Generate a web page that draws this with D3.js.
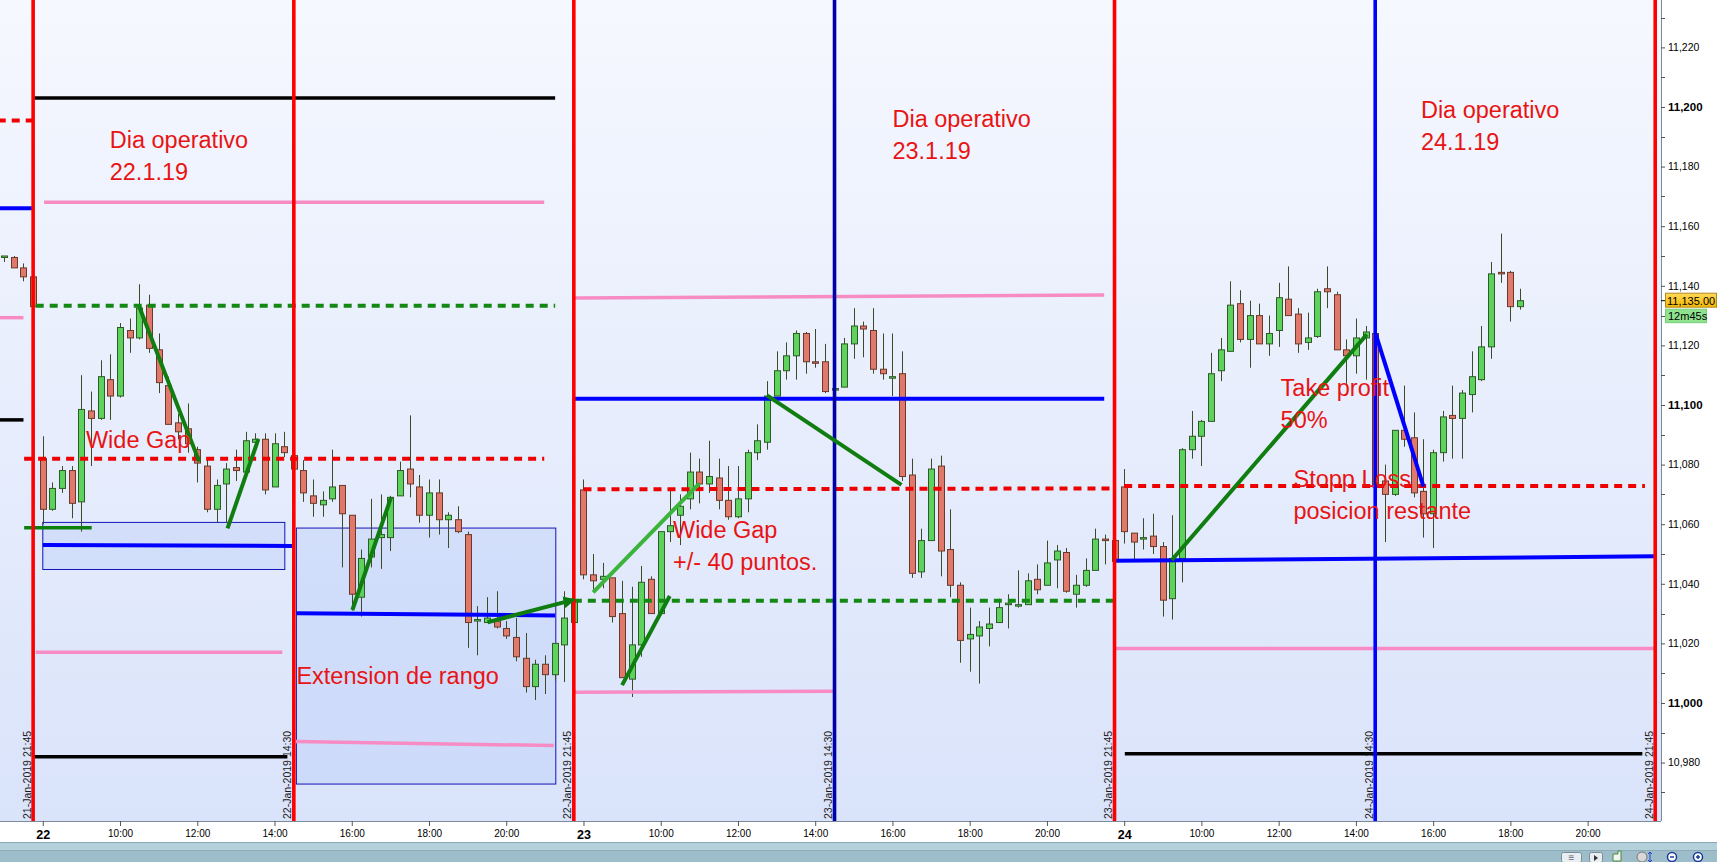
<!DOCTYPE html>
<html><head><meta charset="utf-8">
<script src="https://cdn.jsdelivr.net/npm/d3@7/dist/d3.min.js"></script>
<style>
html,body{margin:0;padding:0;background:#fff;overflow:hidden}
svg{display:block;font-family:"Liberation Sans",Arial,sans-serif}
</style></head><body>
<svg id="chart" width="1717" height="862"></svg>
<script>
// ---------------- DATA ----------------
const candleTime = [
"21 21:00","21 21:15","21 21:30","21 21:45",
"22 08:00","22 08:15","22 08:30","22 08:45","22 09:00","22 09:15","22 09:30","22 09:45","22 10:00","22 10:15","22 10:30","22 10:45","22 11:00","22 11:15","22 11:30","22 11:45","22 12:00","22 12:15","22 12:30","22 12:45","22 13:00","22 13:15","22 13:30","22 13:45","22 14:00","22 14:15","22 14:30","22 14:45","22 15:00","22 15:15","22 15:30","22 15:45","22 16:00","22 16:15","22 16:30","22 16:45","22 17:00","22 17:15","22 17:30","22 17:45","22 18:00","22 18:15","22 18:30","22 18:45","22 19:00","22 19:15","22 19:30","22 19:45","22 20:00","22 20:15","22 20:30","22 20:45","22 21:00","22 21:15","22 21:30","22 21:45",
"23 08:00","23 08:15","23 08:30","23 08:45","23 09:00","23 09:15","23 09:30","23 09:45","23 10:00","23 10:15","23 10:30","23 10:45","23 11:00","23 11:15","23 11:30","23 11:45","23 12:00","23 12:15","23 12:30","23 12:45","23 13:00","23 13:15","23 13:30","23 13:45","23 14:00","23 14:15","23 14:30","23 14:45","23 15:00","23 15:15","23 15:30","23 15:45","23 16:00","23 16:15","23 16:30","23 16:45","23 17:00","23 17:15","23 17:30","23 17:45","23 18:00","23 18:15","23 18:30","23 18:45","23 19:00","23 19:15","23 19:30","23 19:45","23 20:00","23 20:15","23 20:30","23 20:45","23 21:00","23 21:15","23 21:30","23 21:45",
"24 08:00","24 08:15","24 08:30","24 08:45","24 09:00","24 09:15","24 09:30","24 09:45","24 10:00","24 10:15","24 10:30","24 10:45","24 11:00","24 11:15","24 11:30","24 11:45","24 12:00","24 12:15","24 12:30","24 12:45","24 13:00","24 13:15","24 13:30","24 13:45","24 14:00","24 14:15","24 14:30","24 14:45","24 15:00","24 15:15","24 15:30","24 15:45","24 16:00","24 16:15","24 16:30","24 16:45","24 17:00","24 17:15","24 17:30","24 17:45","24 18:00","24 18:15"
];
const open = [
11150,11149.5,11146,11143,
11082,11065,11072,11078,11067.5,11098,11095.5,11108.5,11103,11125,11122.5,11133.5,11118.5,11106.5,11094,11092,11085,11079.5,11065,11073.5,11079,11077.5,11087.5,11088.5,11072.5,11086,11083,11078,11069.5,11066.5,11068.5,11073,11063,11035.5,11049,11055.5,11055.5,11069.5,11078.5,11072.5,11063,11070.5,11061.5,11061.5,11056.5,11027.5,11027,11027.5,11025,11022,11015,11005.5,11013,11009.5,11019.5,11027,
11071.5,11043,11041.5,11042,11030,11008,11019.5,11041.5,11030,11057.5,11063,11068.5,11077.5,11073.5,11075.5,11068,11062.5,11068.5,11084,11087.5,11103,11111.5,11116.5,11124,11114.5,11114.5,11105.5,11106,11120.5,11126.5,11125,11112,11109.5,11110.5,11076.5,11044,11054.5,11079.5,11051.5,11039.5,11021.5,11022.5,11025,11027,11033,11033,11033,11041.5,11039.5,11048,11050.5,11036.5,11039.5,11044.5,11055,11054.5,
11072.5,11057,11055.5,11056,11052.5,11035,11048.5,11085,11089.5,11094.5,11111.5,11118,11134,11122,11130,11120.5,11125,11135.5,11130.5,11121,11123,11139,11137,11118.5,11116.5,11122.5,11124,11074.5,11070,11091.5,11089,11071,11063.5,11084,11096.5,11095.5,11103.5,11108.5,11119.5,11144.5,11144.5,11133
];
const high = [
11150,11150,11147.5,11143,
11089.5,11074,11079.5,11079.5,11110,11104.5,11115,11117,11127.5,11129,11140.5,11137,11124,11109.5,11097,11100.5,11086,11082,11075,11080.5,11085,11091,11090.5,11090.5,11090.5,11091,11083.5,11081.5,11075,11071,11085,11073,11063,11051.5,11068.5,11070,11069.5,11081,11096.5,11076.5,11075,11075,11064,11066,11057.5,11032.5,11035.5,11037.5,11027.5,11028.5,11023.5,11014.5,11016,11020,11037.5,11038,
11075,11050,11047,11042,11041,11039,11046,11042.5,11057.5,11071.5,11070,11084,11082,11088,11082,11079.5,11079.5,11085,11093.5,11108,11118,11121,11125,11124.5,11125.5,11120.5,11106,11122.5,11132.5,11128,11132.5,11124,11124,11118,11082,11058.5,11082,11083,11065,11040.5,11032,11027.5,11032,11035,11036.5,11044.5,11043.5,11046.5,11054.5,11053,11052,11043,11048.5,11058.5,11056.5,11054.5,
11078.5,11057,11062,11063.5,11054,11063,11085.5,11098,11095,11117.5,11122.5,11141.5,11138.5,11135,11134,11130,11141,11146.5,11132.5,11131,11139,11146.5,11138,11122,11129,11126.5,11125,11080,11091.5,11106.5,11097.5,11088.5,11085,11098,11106.5,11105,11118,11126.5,11148,11157.5,11145,11139
];
const low = [
11148,11146,11141.5,11133,
11060,11064.5,11070.5,11062,11057.5,11079.5,11095,11095,11102.5,11117.5,11122,11117.5,11104,11093.5,11088.5,11084,11074,11064,11060.5,11060.5,11074.5,11077.5,11085,11070,11072.5,11082.5,11078,11067.5,11062.5,11062.5,11067.5,11045.5,11031,11029,11045.5,11045,11051,11069.5,11069,11060.5,11055.5,11056.5,11052,11057,11018.5,11016,11027,11025,11021.5,11014,11003.5,11001,11003,11007.5,11007,11027,
11041.5,11038,11038.5,11027,11008.5,11002,11015.5,11030,11029.5,11054,11053,11065,11067,11070.5,11065,11061.5,11062,11064,11081.5,11085,11103,11108.5,11108.5,11110.5,11112.5,11104,11105,11106,11115.5,11116,11110.5,11108.5,11103,11074.5,11042,11042,11054.5,11042.5,11035.5,11013.5,11010.5,11006.5,11019,11027,11025,11032,11033,11036.5,11039.5,11038.5,11037,11032,11039,11044.5,11046.5,11047.5,
11053.5,11048,11051.5,11050,11029,11028,11040.5,11082,11079.5,11094.5,11108,11118,11121,11112.5,11120.5,11116.5,11119.5,11130,11117.5,11118.5,11122.5,11132.5,11118.5,11106.5,11110.5,11108.5,11068,11054,11069.5,11086,11069,11055.5,11052,11081,11082,11082,11097.5,11108,11115.5,11141,11128,11132
];
const close = [
11150,11146,11143,11133,
11065,11072,11078,11067,11098.5,11095.5,11109.5,11103,11126,11122.5,11132.5,11119,11107.5,11093.5,11091,11087,11080.5,11065,11073,11078.5,11078,11088,11088.5,11071.5,11087,11084,11078.5,11070.5,11067,11068,11072.5,11063.5,11036.5,11048.5,11055,11056.5,11069,11078,11073.5,11063,11070.5,11061.5,11063,11057.5,11027,11028,11028.5,11025.5,11022.5,11015.5,11005.5,11013,11009.5,11020,11028.5,11034.5,
11043,11041,11042.5,11029,11008.5,11019.5,11040.5,11030,11057.5,11059.5,11066,11077.5,11073.5,11076,11068,11062.5,11068.5,11084,11088,11103,11111.5,11116.5,11124,11114.5,11114,11104.5,11105.5,11120.5,11126.5,11125.5,11112,11110.5,11109.5,11076,11043.5,11054.5,11078.5,11051,11039.5,11021,11023,11025.5,11026.5,11032,11033.5,11033,11041,11038,11047,11051,11037.5,11039.5,11044.5,11055,11054.5,11047.5,
11057.5,11054,11055.5,11052.5,11034.5,11048.5,11085,11089.5,11094.5,11110.5,11118.5,11133.5,11122,11130,11120.5,11124,11136,11130,11120.5,11122.5,11138,11138,11118.5,11116.5,11122.5,11124.5,11072.5,11070,11091.5,11088.5,11070.5,11063.5,11084,11096,11095.5,11104,11109.5,11119.5,11144,11144,11133,11135
];

// axis tick labels
const yTickValues = [10980,11000,11020,11040,11060,11080,11100,11120,11140,11160,11180,11200,11220];
const yBoldTicks  = [11000,11100,11200];
const xTickTimes  = ["22 08:00","22 10:00","22 12:00","22 14:00","22 16:00","22 18:00","22 20:00","23 08:00","23 10:00","23 12:00","23 14:00","23 16:00","23 18:00","23 20:00","24 08:00","24 10:00","24 12:00","24 14:00","24 16:00","24 18:00","24 20:00"];
const xTickLabels = ["22","10:00","12:00","14:00","16:00","18:00","20:00","23","10:00","12:00","14:00","16:00","18:00","20:00","24","10:00","12:00","14:00","16:00","18:00","20:00"];

// session markers (vertical lines)
const markerTimes  = ["21 21:45","22 14:30","22 21:45","23 14:30","23 21:45","24 14:30","24 21:45"];
const markerLabels = ["21-Jan-2019 21:45","22-Jan-2019 14:30","22-Jan-2019 21:45","23-Jan-2019 14:30","23-Jan-2019 21:45","24-Jan-2019 14:30","24-Jan-2019 21:45"];
const markerKinds  = ["red","red","red","navy","red","blue","red"];

// horizontal levels: [from, to, value at start, value at end, kind]
const levels = [
 ["21 20:50","21 21:48",11195.5,11195.5,"redDash"],
 ["21 20:50","21 21:45",11166,11166,"blue"],
 ["21 20:50","21 21:30",11129.3,11129.3,"pink"],
 ["21 20:50","21 21:30",11095,11095,"black"],
 ["21 21:45","22 21:16",11203,11203,"black"],
 ["22 08:02","22 20:59",11168,11168,"pink"],
 ["21 21:49","22 21:16",11133.3,11133.3,"greenDash"],
 ["21 21:31","22 20:59",11082,11082,"redDash"],
 ["21 21:31","22 09:16",11058.8,11058.8,"green"],
 ["22 08:00","22 14:29",11053,11052.7,"blue"],
 ["21 21:49","22 14:12",11017,11017,"pink"],
 ["21 21:45","22 14:20",10982,10982,"black"],
 ["22 14:34","22 21:16",11030.1,11029.4,"blue"],
 ["22 14:33","22 21:14",10987.1,10985.7,"pink"],
 ["22 21:45","23 21:29",11135.9,11136.9,"pink"],
 ["22 21:45","23 21:29",11102.1,11102.1,"blue"],
 ["23 08:00","23 21:38",11071.7,11072,"redDash"],
 ["22 21:45","23 21:44",11034.3,11034.3,"greenDash"],
 ["22 21:45","23 14:28",11003.6,11003.9,"pink"],
 ["23 21:44","24 21:44",11018.3,11018.3,"pink"],
 ["23 21:46","24 21:43",11047.7,11049.2,"blue"],
 ["24 08:00","24 21:29",11072.8,11072.8,"redDash"],
 ["24 08:01","24 21:25",10983,10983,"black"]
];

// hand-drawn trend segments: [from, value, to, value, kind]
const trends = [
 ["22 10:30",11132.9,"22 12:03",11081,"dark"],
 ["22 12:47",11058.6,"22 13:35",11088.6,"dark"],
 ["22 16:01",11031.2,"22 17:01",11069,"dark"],
 ["22 19:31",11027.1,"22 21:44",11034.6,"darkArrow"],
 ["23 08:15",11037.1,"23 11:00",11073.7,"light"],
 ["23 09:00",11006,"23 10:14",11035.9,"dark"],
 ["23 12:45",11103.2,"23 16:14",11073.2,"dark"],
 ["24 09:14",11048,"24 14:17",11123.7,"dark"],
 ["24 14:31",11123.7,"24 15:45",11072.6,"blue"]
];

// range boxes: [from, to, top, bottom]
const boxes = [
 ["22 08:00","22 14:16",11060.6,11044.8],
 ["22 14:34","22 21:17",11058.7,10972.8]
];

// annotations: [time, value of first baseline, lines]
const notes = [
 ["22 09:44",11186.3,["Dia operativo","22.1.19"]],
 ["23 16:00",11193.3,["Dia operativo","23.1.19"]],
 ["24 15:41",11196.3,["Dia operativo","24.1.19"]],
 ["22 09:07",11085.4,["Wide Gap"]],
 ["22 14:34",11006.4,["Extension de rango"]],
 ["23 10:19",11055.3,["Wide Gap","+/- 40 puntos."]],
 ["24 12:03",11103,["Take profit","50%"]],
 ["24 12:23",11072.6,["Stopp Loss","posicion restante"]]
];

const lastPrice = 11135;
const lastPriceLabel = "11,135.00";
const timerLabel = "12m45s";

// ---------------- RENDER ----------------
const parseH = s => { const [d, t] = s.split(" "); const [hh, mm] = t.split(":").map(Number); return (+d - 22) * 14 + hh - 8 + mm / 60; };

const svg = d3.select("#chart");
const PW = 1661, PH = 821;
const x = d3.scaleLinear().domain([-1.108, 41.9]).range([0, PW]);
const y = d3.scaleLinear().domain([10960.4, 11235.9]).range([PH, 0]);

const defs = svg.append("defs");
const grad = defs.append("linearGradient").attr("id","bg").attr("x1",0).attr("y1",0).attr("x2",0).attr("y2",1);
grad.append("stop").attr("offset","0%").attr("stop-color","#f6f8ff");
grad.append("stop").attr("offset","100%").attr("stop-color","#d9e3fa");
defs.append("clipPath").attr("id","clip").append("rect").attr("x",0).attr("y",0).attr("width",PW).attr("height",PH);
const pg = defs.append("linearGradient").attr("id","pricebg").attr("x1",0).attr("y1",0).attr("x2",0).attr("y2",1);
pg.append("stop").attr("offset","0%").attr("stop-color","#ffd95a");
pg.append("stop").attr("offset","100%").attr("stop-color","#f5b800");
defs.append("marker").attr("id","arr").attr("viewBox","0 0 10 10").attr("refX",8).attr("refY",5)
  .attr("markerWidth",3).attr("markerHeight",3).attr("orient","auto")
  .append("path").attr("d","M0,0L10,5L0,10z").attr("fill","#0d7a0d");

svg.append("rect").attr("width",1717).attr("height",862).attr("fill","#fff");
svg.append("rect").attr("x",0).attr("y",0).attr("width",PW).attr("height",PH).attr("fill","url(#bg)");

const g = svg.append("g").attr("clip-path","url(#clip)");

// boxes
g.selectAll(".box").data(boxes).join("rect")
  .attr("x", d => x(parseH(d[0]))).attr("y", d => y(d[2]))
  .attr("width", d => x(parseH(d[1])) - x(parseH(d[0])))
  .attr("height", d => y(d[3]) - y(d[2]))
  .attr("fill","rgba(185,205,248,0.42)").attr("stroke","#1414b8").attr("stroke-width",1);

// candles
const candles = candleTime.map((t,i) => ({h: parseH(t), o: open[i], hi: high[i], lo: low[i], c: close[i]}));
const cg = g.append("g");
cg.selectAll(".wick").data(candles).join("line")
  .attr("x1", d => Math.round(x(d.h)) + 0.5).attr("x2", d => Math.round(x(d.h)) + 0.5)
  .attr("y1", d => y(d.hi)).attr("y2", d => y(d.lo))
  .attr("stroke","#3c4a28").attr("stroke-width",1);
cg.selectAll(".body").data(candles).join("rect")
  .attr("x", d => Math.round(x(d.h)) - 2.5).attr("width", 6)
  .attr("y", d => y(Math.max(d.o, d.c)))
  .attr("height", d => Math.max(1.5, Math.abs(y(d.o) - y(d.c))))
  .attr("fill", d => d.c >= d.o ? "#5dd35d" : "#e0786c")
  .attr("stroke", d => d.c >= d.o ? "#2f5a26" : "#6a3a28").attr("stroke-width",1);

// levels
const levelStyle = {
  redDash:  {c:"#ee0000", w:4, dash:"8,6"},
  greenDash:{c:"#138813", w:4, dash:"8,6"},
  blue:     {c:"#0000ff", w:4},
  pink:     {c:"#f78cc4", w:3.5},
  black:    {c:"#000000", w:3.5},
  green:    {c:"#0d7f0d", w:3.5}
};
g.selectAll(".lvl").data(levels).join("line")
  .attr("x1", d => x(parseH(d[0]))).attr("x2", d => x(parseH(d[1])))
  .attr("y1", d => y(d[2])).attr("y2", d => y(d[3]))
  .attr("stroke", d => levelStyle[d[4]].c).attr("stroke-width", d => levelStyle[d[4]].w)
  .attr("stroke-dasharray", d => levelStyle[d[4]].dash || null);

// vertical markers
const markColor = {red:"#ff0000", navy:"#0000a8", blue:"#0000ff"};
const markers = markerTimes.map((t,i) => ({h: parseH(t), label: markerLabels[i], kind: markerKinds[i]}));
g.selectAll(".mk").data(markers).join("line")
  .attr("x1", d => x(d.h)).attr("x2", d => x(d.h)).attr("y1", 0).attr("y2", PH)
  .attr("stroke", d => markColor[d.kind]).attr("stroke-width", 3.6);
g.selectAll(".mkl").data(markers).join("text")
  .attr("transform", d => `translate(${x(d.h) - 2.5},${PH - 2}) rotate(-90)`)
  .attr("font-size","10.5px").attr("fill","#1a1a1a").text(d => d.label);

// trends
const trendStyle = {dark:"#0f7d0f", darkArrow:"#0f7d0f", light:"#3cb43c", blue:"#0000ff"};
g.selectAll(".tr").data(trends).join("line")
  .attr("x1", d => x(parseH(d[0]))).attr("y1", d => y(d[1]))
  .attr("x2", d => x(parseH(d[2]))).attr("y2", d => y(d[3]))
  .attr("stroke", d => trendStyle[d[4]]).attr("stroke-width", 4)
  .attr("marker-end", d => d[4] === "darkArrow" ? "url(#arr)" : null);

// notes
const ng = g.selectAll(".note").data(notes).join("text")
  .attr("x", d => x(parseH(d[0]))).attr("y", d => y(d[1]))
  .attr("font-size","23.5px").attr("fill","#e81414");
ng.selectAll("tspan").data(d => d[2].map((s,i) => ({s, i, x: x(parseH(d[0]))}))).join("tspan")
  .attr("x", d => d.x).attr("dy", d => d.i === 0 ? 0 : 32).text(d => d.s);

// right axis
const yAxis = d3.axisRight(y).tickValues(yTickValues).tickSize(4).tickPadding(3).tickFormat(d3.format(","));
const ya = svg.append("g").attr("transform",`translate(${PW},0)`).call(yAxis);
ya.select(".domain").attr("stroke","#7d8a99").attr("d",`M0.5,0V${PH}`);
ya.selectAll(".tick line").attr("stroke","#555");
ya.selectAll(".tick text").attr("font-size", d => yBoldTicks.includes(d) ? "11.5px" : "10.5px")
  .attr("font-weight", d => yBoldTicks.includes(d) ? "bold" : null)
  .attr("font-family","Liberation Sans, Arial, sans-serif").attr("fill","#000");
const minorG = svg.append("g");
minorG.selectAll("line").data(d3.range(10970, 11240, 20)).join("line")
  .attr("x1", PW).attr("x2", PW + 4).attr("y1", d => Math.round(y(d)) + 0.5).attr("y2", d => Math.round(y(d)) + 0.5)
  .attr("stroke","#555");

// bottom axis
const xAxis = d3.axisBottom(x).tickValues(xTickTimes.map(parseH)).tickFormat((d,i) => xTickLabels[i]).tickSize(5).tickPadding(4);
const xa = svg.append("g").attr("transform",`translate(0,${PH})`).call(xAxis);
xa.select(".domain").attr("stroke","#7d8a99").attr("d",`M0,0.5H${PW}`);
xa.selectAll(".tick line").attr("stroke","#555");
xa.selectAll(".tick text").attr("font-family","Liberation Sans, Arial, sans-serif").attr("fill","#000")
  .attr("font-size", (d,i) => xTickLabels[i].includes(":") ? "10px" : "12.5px")
  .attr("font-weight", (d,i) => xTickLabels[i].includes(":") ? null : "bold");

// last price tags
const py = y(lastPrice);
svg.append("rect").attr("x",1665.5).attr("y",py - 7.5).attr("width",51).attr("height",14)
  .attr("fill","url(#pricebg)").attr("stroke","#b08a20").attr("stroke-width",1);
svg.append("text").attr("x",1667).attr("y",py + 4).attr("font-size","11px").attr("fill","#000").text(lastPriceLabel);
svg.append("rect").attr("x",1665.5).attr("y",py + 8.5).attr("width",41).attr("height",13.5)
  .attr("fill","#8fe38f").attr("stroke","#7acb7a").attr("stroke-width",1);
svg.append("text").attr("x",1668).attr("y",py + 19.5).attr("font-size","11px").attr("fill","#000").text(timerLabel);
svg.append("line").attr("x1",PW).attr("x2",PW+4).attr("y1",py).attr("y2",py).attr("stroke","#000");

// bottom toolbar
svg.append("rect").attr("x",0).attr("y",842).attr("width",1717).attr("height",9).attr("fill","#b4d0db");
svg.append("rect").attr("x",0).attr("y",851).attr("width",1717).attr("height",11).attr("fill","#9ebdca");
svg.append("line").attr("x1",0).attr("x2",1717).attr("y1",842.5).attr("y2",842.5).attr("stroke","#8aa6b3");
svg.append("line").attr("x1",0).attr("x2",1717).attr("y1",850.5).attr("y2",850.5).attr("stroke","#8fabb8");
const tb = svg.append("g");
tb.append("rect").attr("x",1561.5).attr("y",852.5).attr("width",20).attr("height",10).attr("rx",2).attr("fill","#e8eef2").attr("stroke","#7b8c96");
tb.append("text").attr("x",1571.5).attr("y",861).attr("text-anchor","middle").attr("font-size","10px").attr("fill","#667").text("≡");
tb.append("rect").attr("x",1589.5).attr("y",852.5).attr("width",13).attr("height",10).attr("rx",2).attr("fill","#e8eef2").attr("stroke","#7b8c96");
tb.append("path").attr("d","M1594,855L1598,858L1594,861z").attr("fill","#333");
tb.append("path").attr("d","M1613,861V854h5v-3h3v10z").attr("fill","#f4f4f4").attr("stroke","#4a8a3a");
tb.append("circle").attr("cx",1642).attr("cy",857).attr("r",5).attr("fill","#d8d8d8").attr("stroke","#777");
tb.append("path").attr("d","M1650,852v10M1648,854l2,-2l2,2M1648,860l2,2l2,-2").attr("stroke","#2244cc").attr("fill","none");
tb.append("circle").attr("cx",1672).attr("cy",857).attr("r",4.5).attr("fill","#fff").attr("stroke","#1a3a9a").attr("stroke-width",1.5);
tb.append("line").attr("x1",1670).attr("x2",1674).attr("y1",857).attr("y2",857).attr("stroke","#1a3a9a").attr("stroke-width",1.5);
tb.append("circle").attr("cx",1698).attr("cy",857).attr("r",4.5).attr("fill","#fff").attr("stroke","#1a3a9a").attr("stroke-width",1.5);
tb.append("path").attr("d","M1696,857h4M1698,855v4").attr("stroke","#1a3a9a").attr("stroke-width",1.5);
</script>
</body></html>
